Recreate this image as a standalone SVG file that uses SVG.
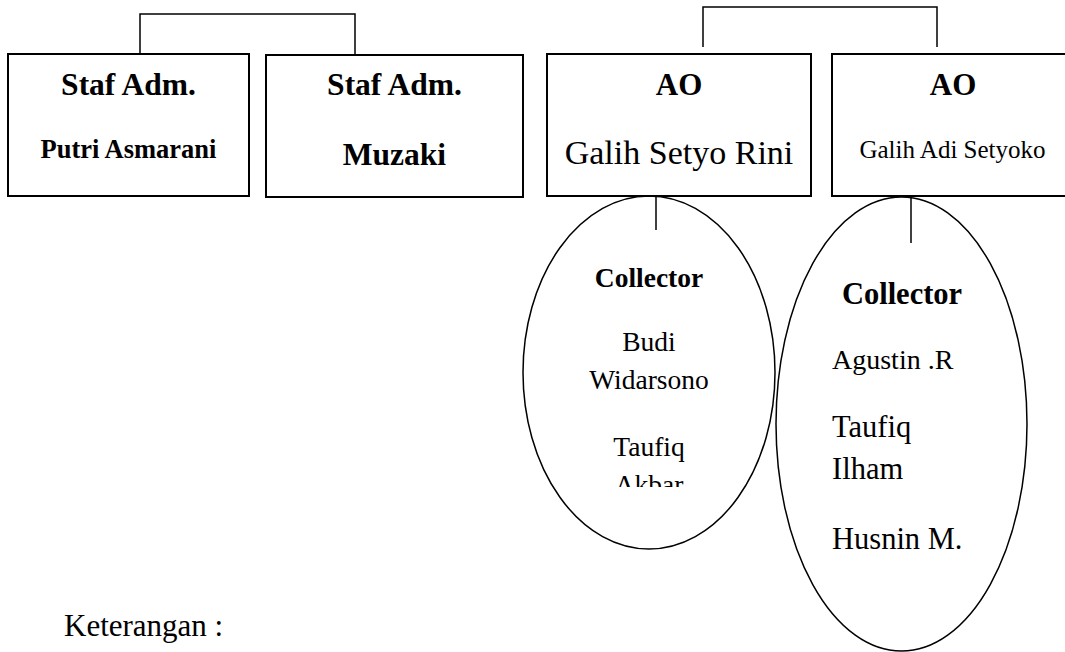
<svg xmlns="http://www.w3.org/2000/svg" width="1065" height="652" viewBox="0 0 1065 652">
<style>
.box{fill:#fff;stroke:#000;stroke-width:2}
.ell{fill:none;stroke:#000;stroke-width:1.5}
.con{fill:none;stroke:#000;stroke-width:1.5}
text{font-family:"Liberation Serif","Times New Roman",serif;fill:#000;text-anchor:middle}
.b{font-weight:bold}
.l{text-anchor:start}
</style>
<defs>
<clipPath id="clipE1"><rect x="520" y="190" width="260" height="297"/></clipPath>
</defs>
<rect width="1065" height="652" fill="#fff"/>
<g id="connectors">
<polyline class="con" points="140,54 140,14 355,14 355,54"/>
<polyline class="con" points="703,47 703,7 937,7 937,47"/>
<line class="con" x1="656" y1="192" x2="656" y2="230"/>
<line class="con" x1="911" y1="196" x2="911" y2="243"/>
</g>
<g id="staf1">
<rect class="box" x="8" y="54" width="241" height="142"/>
<text class="b" x="128.5" y="95" font-size="31.5">Staf Adm.</text>
<text class="b" x="128.5" y="158" font-size="26.5">Putri Asmarani</text>
</g>
<g id="staf2">
<rect class="box" x="266" y="55" width="257" height="142"/>
<text class="b" x="394.5" y="95" font-size="31.5">Staf Adm.</text>
<text class="b" x="394.5" y="165" font-size="31.5">Muzaki</text>
</g>
<g id="ao1">
<rect class="box" x="547" y="54" width="264" height="142"/>
<text class="b" x="679" y="95" font-size="31">AO</text>
<text x="679" y="164" font-size="34">Galih Setyo Rini</text>
</g>
<g id="ao2">
<rect class="box" x="832" y="54" width="241" height="142"/>
<text class="b" x="953" y="95" font-size="31">AO</text>
<text x="952.5" y="158" font-size="25">Galih Adi Setyoko</text>
</g>
<g id="collector1">
<ellipse class="ell" cx="649" cy="372.5" rx="126" ry="176.5"/>
<text class="b" x="649" y="287" font-size="27.5">Collector</text>
<text x="649" y="351" font-size="27.5">Budi</text>
<text x="649" y="389" font-size="27.5">Widarsono</text>
<g clip-path="url(#clipE1)">
<text x="649" y="456" font-size="27.5">Taufiq</text>
<text x="649" y="494" font-size="27.5">Akbar</text>
</g>
</g>
<g id="collector2">
<ellipse class="ell" cx="901.5" cy="424" rx="125.5" ry="227"/>
<text class="b" x="902" y="304" font-size="30.5">Collector</text>
<text class="l" x="832" y="369" font-size="28">Agustin .R</text>
<text class="l" x="832" y="437" font-size="30.5">Taufiq</text>
<text class="l" x="832" y="479" font-size="30.5">Ilham</text>
<text class="l" x="832" y="549" font-size="30.5">Husnin M.</text>
</g>
<text class="l" x="64" y="636" font-size="31">Keterangan :</text>
</svg>
